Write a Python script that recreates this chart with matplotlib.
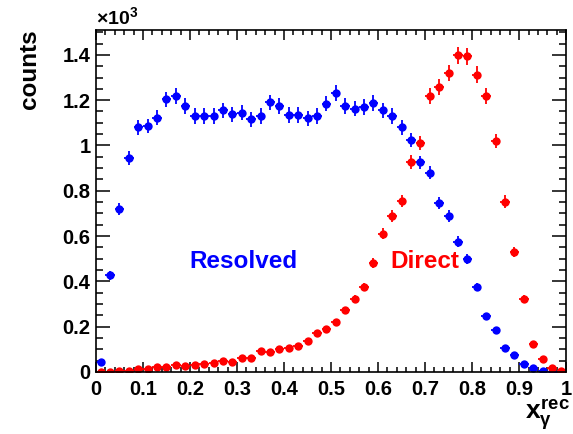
import numpy as np
import matplotlib
matplotlib.use("Agg")
import matplotlib.pyplot as plt
from matplotlib.ticker import MultipleLocator

plt.rcParams['font.family'] = ['Liberation Sans', 'DejaVu Sans']
plt.rcParams['mathtext.fontset'] = 'custom'
plt.rcParams['mathtext.rm'] = 'Liberation Sans:bold'
plt.rcParams['mathtext.it'] = 'Liberation Sans:bold'
plt.rcParams['mathtext.bf'] = 'Liberation Sans:bold'

# bin centres of x_gamma^rec (bin width 0.02)
bin_centers = [0.01, 0.03, 0.05, 0.07, 0.09, 0.11, 0.13, 0.15, 0.17, 0.19,
               0.21, 0.23, 0.25, 0.27, 0.29, 0.31, 0.33, 0.35, 0.37, 0.39,
               0.41, 0.43, 0.45, 0.47, 0.49, 0.51, 0.53, 0.55, 0.57, 0.59,
               0.61, 0.63, 0.65, 0.67, 0.69, 0.71, 0.73, 0.75, 0.77, 0.79,
               0.81, 0.83, 0.85, 0.87, 0.89, 0.91, 0.93, 0.95, 0.97, 0.99]
bin_width = 0.02

# counts in units of 10^3
resolved = [0.045, 0.426, 0.720, 0.946, 1.081, 1.086, 1.122, 1.203, 1.218, 1.174,
            1.130, 1.130, 1.130, 1.155, 1.137, 1.145, 1.115, 1.130, 1.190, 1.174,
            1.134, 1.134, 1.120, 1.130, 1.185, 1.230, 1.174, 1.163, 1.170, 1.187,
            1.155, 1.130, 1.080, 1.024, 0.925, 0.880, 0.746, 0.690, 0.576, 0.500,
            0.375, 0.246, 0.185, 0.108, 0.075, 0.034, 0.016, 0.006, 0.002, 0.001]
direct = [0.001, 0.002, 0.003, 0.003, 0.012, 0.012, 0.023, 0.023, 0.031, 0.028,
          0.031, 0.034, 0.041, 0.048, 0.042, 0.063, 0.060, 0.092, 0.087, 0.100,
          0.107, 0.114, 0.136, 0.170, 0.188, 0.221, 0.272, 0.324, 0.375, 0.480,
          0.610, 0.687, 0.756, 0.927, 1.010, 1.220, 1.260, 1.320, 1.398, 1.393,
          1.313, 1.218, 1.020, 0.752, 0.529, 0.324, 0.122, 0.056, 0.017, 0.003]

xticks = [0, 0.1, 0.2, 0.3, 0.4, 0.5, 0.6, 0.7, 0.8, 0.9, 1]
xticklabels = ["0", "0.1", "0.2", "0.3", "0.4", "0.5", "0.6", "0.7", "0.8", "0.9", "1"]
yticks = [0, 0.2, 0.4, 0.6, 0.8, 1.0, 1.2, 1.4]
yticklabels = ["0", "0.2", "0.4", "0.6", "0.8", "1", "1.2", "1.4"]

fig = plt.figure(figsize=(5.73, 4.34), dpi=100)
ax = fig.add_axes([0.1675, 0.1429, 0.8205, 0.7881])

x = np.array(bin_centers)
for vals, col in [(resolved, (0, 0, 1)), (direct, (1, 0, 0))]:
    v = np.array(vals)
    err = np.sqrt(v * 1000.0) / 1000.0
    # horizontal bin-width bars
    ax.errorbar(x, v, xerr=bin_width / 2, fmt='none', ecolor=col,
                elinewidth=1.3, capsize=0)
    # vertical statistical error bars with small caps
    ax.errorbar(x, v, yerr=err, fmt='o', color=col, ms=6.0, mew=0,
                ecolor=col, elinewidth=1.3, capsize=2.2, capthick=1.3)

ax.set_xlim(0, 1)
ax.set_ylim(0, 1.51)
ax.set_xticks(xticks)
ax.set_xticklabels(xticklabels)
ax.set_yticks(yticks)
ax.set_yticklabels(yticklabels)
ax.xaxis.set_minor_locator(MultipleLocator(0.02))
ax.yaxis.set_minor_locator(MultipleLocator(0.05))

for lbl in ax.get_xticklabels() + ax.get_yticklabels():
    lbl.set_fontweight('bold')
    lbl.set_fontsize(14.5)

ax.tick_params(axis='x', which='major', direction='in', length=7, width=1.1,
               top=True, pad=6)
ax.tick_params(axis='x', which='minor', direction='in', length=3.5, width=1.1, top=True)
ax.tick_params(axis='y', which='major', direction='in', length=10, width=1.1,
               right=True, pad=4)
ax.tick_params(axis='y', which='minor', direction='in', length=5, width=1.1, right=True)
for s in ax.spines.values():
    s.set_linewidth(1.2)

ax.text(0.0, 1.004, r'$\times10^{3}$', transform=ax.transAxes, ha='left',
        va='bottom', fontsize=14)

fig.text(0.052, 0.932, 'counts', rotation=90, ha='center', va='top',
         fontsize=17.5, fontweight='bold')
fig.text(0.995, 0.003, r'$x_{\gamma}^{rec}$', ha='right', va='bottom', fontsize=19)

ax.text(0.198, 0.487, 'Resolved', color=(0, 0, 1), fontsize=17.5,
        fontweight='bold', ha='left', va='center')
ax.text(0.627, 0.487, 'Direct', color=(1, 0, 0), fontsize=17.5,
        fontweight='bold', ha='left', va='center')

fig.savefig('out.png', dpi=100)
